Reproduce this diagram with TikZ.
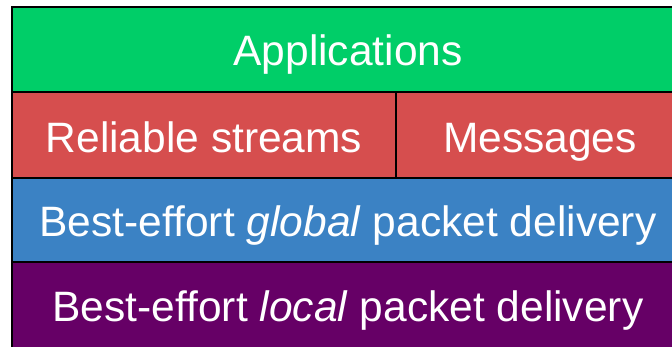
\documentclass[tikz,border=0pt]{standalone}
\usepackage{fontspec}
\setmainfont{Liberation Sans}
\definecolor{appgreen}{RGB}{0,206,104}
\definecolor{relred}{RGB}{214,78,78}
\definecolor{globblue}{RGB}{59,130,196}
\definecolor{locpurple}{RGB}{102,0,102}
\begin{document}
\begin{tikzpicture}[x=1pt,y=-1pt,
  layer/.style={draw=black,line width=2pt,inner sep=0pt,outer sep=0pt,anchor=north west},
  lbl/.style={text=white,inner sep=0pt,anchor=base,font=\fontsize{42.5}{50}\selectfont}]
\useasboundingbox (0,0) rectangle (672,347);
\begin{scope}
\clip (0,0) rectangle (672,347);
\node[layer,fill=appgreen,minimum width=672pt,minimum height=85pt] (app) at (12,7) {};
\node[layer,fill=relred,minimum width=384pt,minimum height=86pt] (rel) at (12,92) {};
\node[layer,fill=relred,minimum width=288pt,minimum height=86pt] (msg) at (396,92) {};
\node[layer,fill=globblue,minimum width=672pt,minimum height=84pt] (glob) at (12,178) {};
\node[layer,fill=locpurple,minimum width=672pt,minimum height=90pt] (loc) at (12,262) {};
\end{scope}
\node[lbl] (tapp) at (348,66) {Applications};
\node[lbl] (trel) at (204,153) {Reliable streams};
\node[lbl] (tmsg) at (540,153) {Messages};
\node[lbl] (tglob) at (348,237) {Best-effort \textit{global} packet delivery};
\node[lbl] (tloc) at (348,322) {Best-effort \textit{local} packet delivery};
\end{tikzpicture}
\end{document}
